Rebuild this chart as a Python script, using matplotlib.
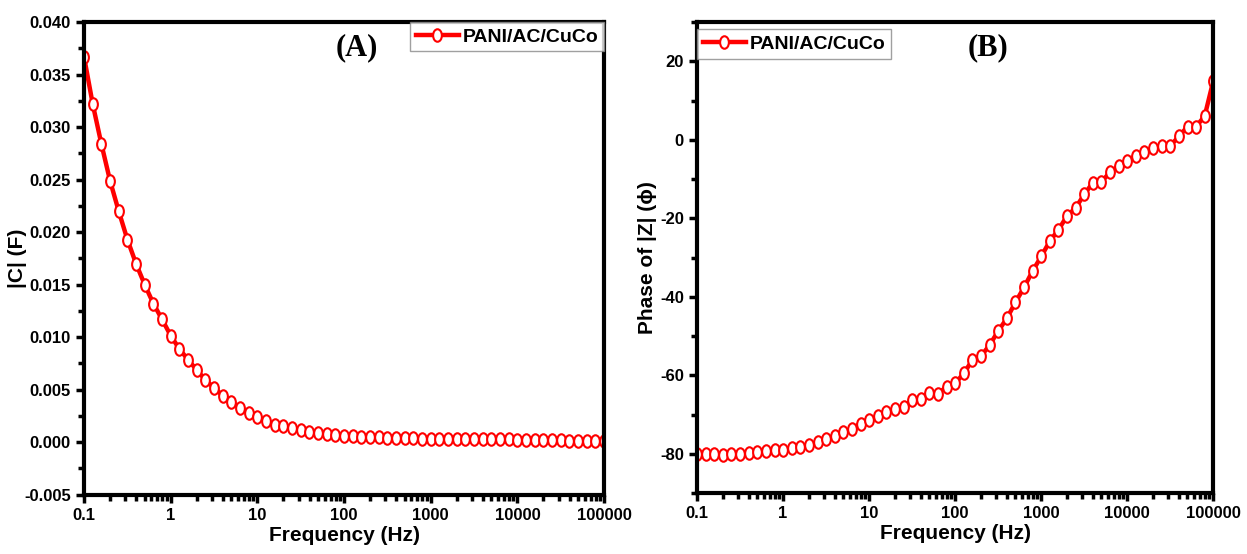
import matplotlib
matplotlib.use('Agg')
import matplotlib.pyplot as plt
from matplotlib.path import Path
from matplotlib.ticker import LogLocator, MultipleLocator, NullFormatter, FixedLocator, FixedFormatter

# frequencies: 10 points per decade, 0.1 Hz .. 100 kHz
freq = [0.1, 0.1259, 0.1585, 0.1995, 0.2512, 0.3162, 0.3981, 0.5012, 0.631, 0.7943,
        1.0, 1.259, 1.585, 1.995, 2.512, 3.162, 3.981, 5.012, 6.31, 7.943,
        10.0, 12.59, 15.85, 19.95, 25.12, 31.62, 39.81, 50.12, 63.1, 79.43,
        100.0, 125.9, 158.5, 199.5, 251.2, 316.2, 398.1, 501.2, 631.0, 794.3,
        1000.0, 1259, 1585, 1995, 2512, 3162, 3981, 5012, 6310, 7943,
        10000.0, 12590, 15850, 19950, 25120, 31620, 39810, 50120, 63100, 79430,
        100000.0]

cap = [0.0367, 0.0322, 0.0284, 0.0249, 0.0220, 0.0193, 0.0170, 0.0150, 0.0132, 0.0117,
       0.01015, 0.00888, 0.00786, 0.00688, 0.00593, 0.00517, 0.00444, 0.00380, 0.00327, 0.00282,
       0.00238, 0.00200, 0.00165, 0.00152, 0.00133, 0.00114, 0.00101, 0.00089, 0.00079, 0.00070,
       0.00063, 0.00058, 0.00054, 0.00050, 0.00047, 0.00044, 0.00041, 0.00039, 0.00037, 0.00035,
       0.00033, 0.00032, 0.00031, 0.00030, 0.00029, 0.00029, 0.00028, 0.00027, 0.00027, 0.00026,
       0.00025, 0.00024, 0.00023, 0.00022, 0.00020, 0.00018, 0.00016, 0.00014, 0.00012, 0.00010,
       0.00008]

phase = [-80.0, -80.0, -80.0, -80.2, -80.0, -80.0, -79.7, -79.6, -79.4, -79.1,
         -79.0, -78.6, -78.2, -77.8, -77.1, -76.3, -75.4, -74.5, -73.6, -72.3,
         -71.4, -70.4, -69.4, -68.5, -68.1, -66.4, -66.0, -64.4, -64.7, -62.9,
         -62.0, -59.5, -56.1, -55.1, -52.3, -48.7, -45.5, -41.4, -37.6, -33.4,
         -29.7, -25.8, -22.9, -19.4, -17.3, -13.9, -10.9, -10.7, -8.2, -6.7,
         -5.4, -4.1, -3.1, -2.1, -1.5, -1.5, 0.9, 3.4, 3.4, 6.1,
         15.1]

xticks = [0.1, 1, 10, 100, 1000, 10000, 100000]
xticklabels = ['0.1', '1', '10', '100', '1000', '10000', '100000']
label = 'PANI/AC/CuCo'

plt.rcParams['font.family'] = ['Liberation Sans Narrow', 'Liberation Sans', 'DejaVu Sans']
plt.rcParams['font.weight'] = 'bold'
plt.rcParams['axes.unicode_minus'] = False

# slightly tall open circle, like the original markers
circ = Path.unit_circle()
oval = Path(circ.vertices * [0.7, 1.0], circ.codes)

fig = plt.figure(figsize=(12.47, 5.54), dpi=100)
ax1 = fig.add_axes([0.0674, 0.107, 0.417, 0.853])
ax2 = fig.add_axes([0.559, 0.110, 0.414, 0.850])

line_kw = dict(color='red', lw=3.2, marker=oval, markersize=9, markerfacecolor='white',
               markeredgecolor='red', markeredgewidth=1.5, label=label)

for ax in (ax1, ax2):
    ax.set_xscale('log')
    ax.set_xlim(0.1, 100000)
    ax.xaxis.set_major_locator(FixedLocator(xticks))
    ax.xaxis.set_major_formatter(FixedFormatter(xticklabels))
    ax.xaxis.set_minor_locator(LogLocator(base=10, subs=range(2, 10), numticks=20))
    ax.xaxis.set_minor_formatter(NullFormatter())
    for s in ax.spines.values():
        s.set_linewidth(3)
    ax.tick_params(which='major', direction='out', length=6, width=2.5, labelsize=12, top=False, right=False)
    ax.tick_params(which='minor', direction='out', length=4, width=2.5, top=False, right=False)
    for t in ax.get_xticklabels() + ax.get_yticklabels():
        t.set_fontweight('bold')
    ax.set_xlabel('Frequency (Hz)', fontsize=15, fontweight='bold', labelpad=2)

ax1.plot(freq, cap, **line_kw)
ax1.set_ylim(-0.005, 0.040)
ax1.yaxis.set_major_locator(MultipleLocator(0.005))
ax1.yaxis.set_minor_locator(MultipleLocator(0.0025))
ax1.yaxis.set_major_formatter(plt.FuncFormatter(lambda v, p: '%.3f' % v))
ax1.set_ylabel('|C| (F)', fontsize=15, fontweight='bold', labelpad=-2)
ax1.text(0.525, 0.945, '(A)', transform=ax1.transAxes, ha='center', va='center',
         fontsize=22, fontweight='bold', family='Liberation Serif')
leg1 = ax1.legend(loc='upper right', fontsize=14, frameon=True, fancybox=False, numpoints=1,
                  borderaxespad=0, handlelength=2.2, borderpad=0.3, handletextpad=0.2)
leg1.get_frame().set_edgecolor('#888888')
leg1.get_frame().set_linewidth(1)

ax2.plot(freq, phase, **line_kw)
ax2.set_ylim(-90, 30)
ax2.yaxis.set_major_locator(MultipleLocator(20))
ax2.yaxis.set_minor_locator(MultipleLocator(10))
ax2.set_ylabel('Phase of |Z| (\u0278)', fontsize=15, fontweight='bold', labelpad=2)
ax2.text(0.564, 0.945, '(B)', transform=ax2.transAxes, ha='center', va='center',
         fontsize=22, fontweight='bold', family='Liberation Serif')
leg2 = ax2.legend(loc='upper left', fontsize=14, frameon=True, fancybox=False, numpoints=1,
                  bbox_to_anchor=(0.0, 0.985), borderaxespad=0, handlelength=2.2,
                  borderpad=0.3, handletextpad=0.2)
leg2.get_frame().set_edgecolor('#888888')
leg2.get_frame().set_linewidth(1)

fig.savefig('out.png', dpi=100)
